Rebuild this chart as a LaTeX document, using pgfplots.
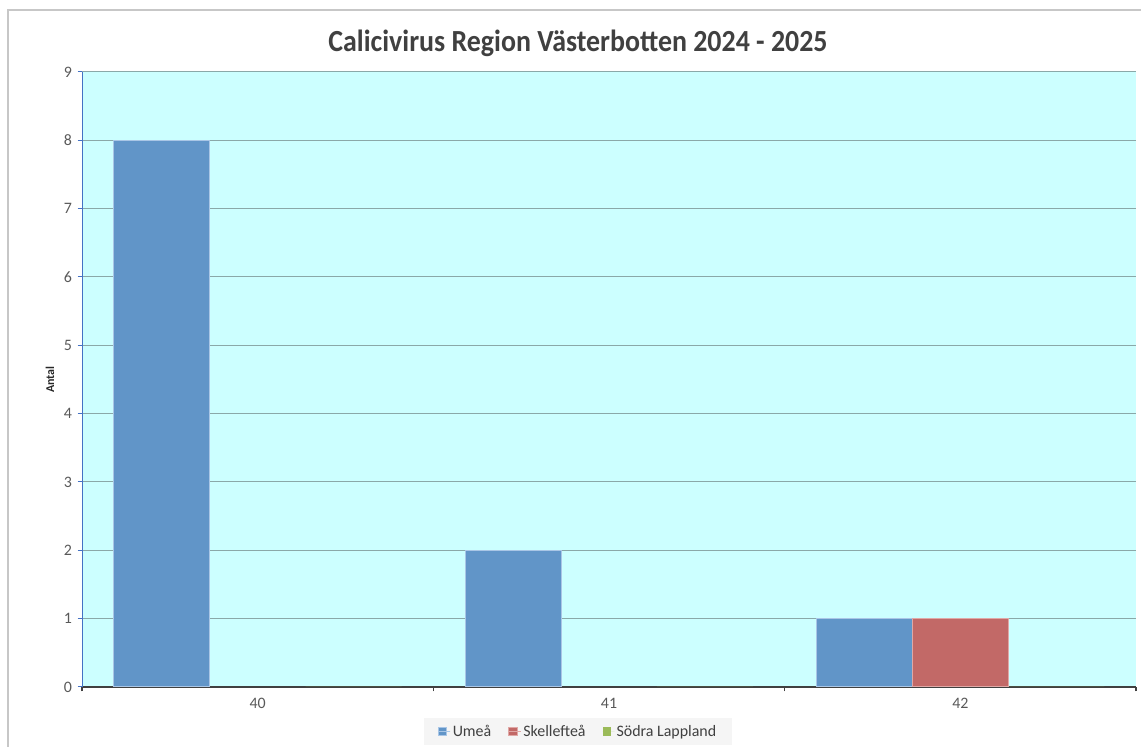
\documentclass[border=0pt]{standalone}
\usepackage{pgfplots}
\pgfplotsset{compat=1.18}
\usepackage{fontspec}
\setmainfont{Carlito}
\definecolor{bgc}{HTML}{CCFFFF}
\definecolor{umea}{HTML}{6195C8}
\definecolor{skel}{HTML}{C26967}
\definecolor{sodra}{HTML}{9BBB59}
\definecolor{gridc}{HTML}{8AA8A8}
\definecolor{yax}{HTML}{4472C4}
\definecolor{txt}{HTML}{595959}
\definecolor{umeaedge}{HTML}{A9C6E6}
\definecolor{skeledge}{HTML}{E0A8A6}
\begin{document}
\begin{tikzpicture}[x=1bp,y=1bp]
\useasboundingbox (0,0) rectangle (1141,747);
\draw[color=black!22, line width=1.5bp] (8,0) -- (8,737) -- (1141,737);
\node[font=\fontsize{28}{32}\selectfont\bfseries, text=black!75, yscale=1.1] at (578,704) {Calicivirus Region Västerbotten 2024 - 2025};
\begin{axis}[
  at={(82bp,60bp)}, anchor=south west, scale only axis,
  width=1054bp, height=615bp,
  ybar=0pt, bar width=96bp,
  xmin=-0.5, xmax=2.5, ymin=0, ymax=9,
  xtick={-0.5,0.5,1.5,2.5}, x tick label as interval,
  xticklabels={40,41,42},
  ytick={0,1,...,9},
  axis background/.style={fill=bgc},
  ymajorgrids, grid style={gridc, line width=1bp},
  axis x line*=bottom, axis y line*=left,
  x axis line style={black!75, line width=2bp},
  y axis line style={yax, line width=1bp},
  tick align=outside, major tick length=4.5bp,
  xtick style={black!75, line width=1.5bp},
  ytick style={yax, line width=1bp},
  tick label style={font=\fontsize{16}{18}\selectfont, text=txt},
  yticklabel style={xshift=-2bp},
  xticklabel style={yshift=-3bp},
  /pgf/number format/assume math mode=true,
  every axis y label/.style={at={(axis description cs:-0.0304,0.5)}, rotate=90, anchor=center},
  ylabel={Antal},
  ylabel style={font=\fontsize{12}{14}\selectfont\bfseries, text=black!85},
  legend style={at={(0.4706,-0.0724)}, anchor=center, legend columns=-1,
    fill=black!4, draw=none, font=\fontsize{16}{18}\selectfont, text=black!75,
    inner xsep=14bp, inner ysep=5bp,
    /tikz/every even column/.append style={column sep=15bp}},
  sq/.style={legend image code/.code={\fill[##1] (0bp,-4.25bp) rectangle (8.5bp,4.25bp); \path (0bp,0bp) -- (12bp,0bp);}},
]
\addplot[sq, fill=umea, draw=umeaedge, line width=1bp] coordinates {(0,8) (1,2) (2,1)};
\addplot[sq, fill=skel, draw=skeledge, line width=1bp] coordinates {(2,1)};
\addplot[sq, fill=sodra, draw=none] coordinates {(0,0) (1,0) (2,0)};
\legend{Umeå, Skellefteå, Södra Lappland}
\end{axis}
\end{tikzpicture}
\end{document}
